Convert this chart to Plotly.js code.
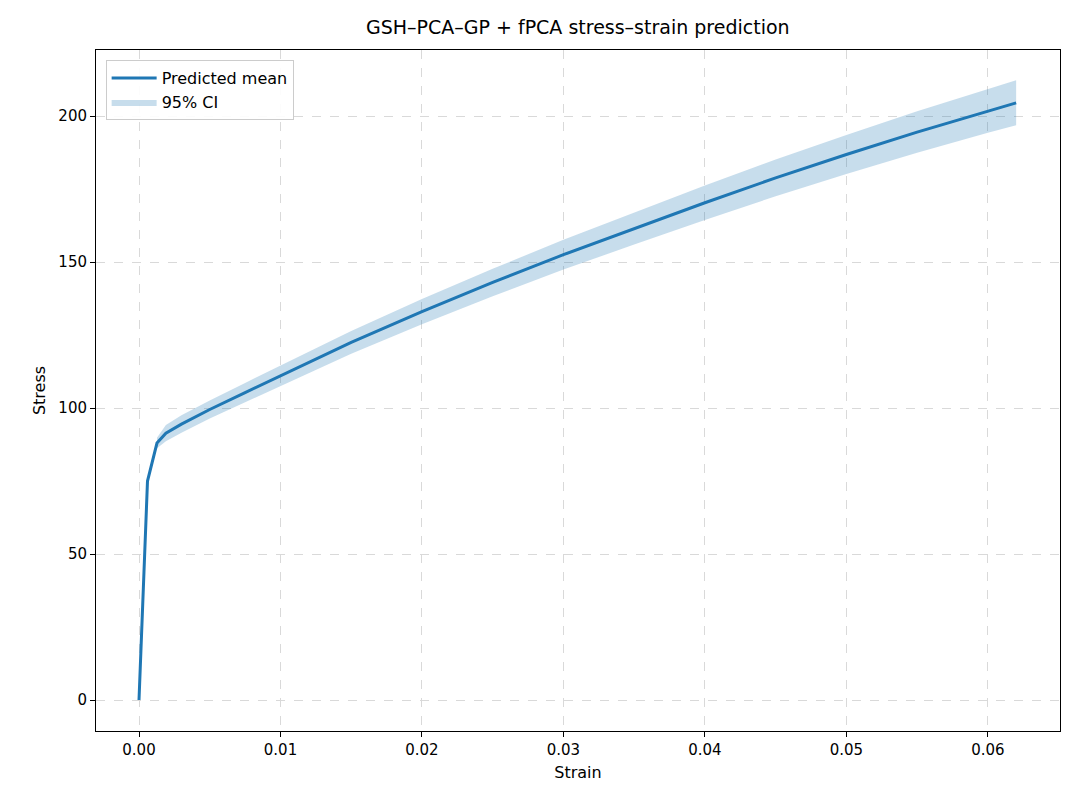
<!DOCTYPE html>
<html>
<head>
<meta charset="utf-8">
<script src="https://cdn.plot.ly/plotly-3.0.1.min.js"></script>
<style>body{margin:0;background:#fff}</style>
</head>
<body>
<div id="chart" style="width:1080px;height:810px"></div>
<script>
// strain / stress
var strain = [0, 0.0006, 0.00127, 0.0019, 0.003, 0.005, 0.0075, 0.01, 0.015, 0.02, 0.025, 0.03, 0.035, 0.04, 0.045, 0.05, 0.055, 0.06, 0.062];
var stressMean = [0, 75, 88, 91.4, 94.5, 99.5, 105.3, 111, 122.5, 133, 143, 152.5, 161.5, 170.3, 178.8, 186.8, 194.5, 201.8, 204.5];
var ciHalf = [0, 0, 1.8, 2.8, 3, 3.1, 3.3, 3.5, 3.9, 4.3, 4.7, 5.1, 5.5, 5.9, 6.3, 6.7, 7.1, 7.5, 7.7];

var bandStrain = [], bandStress = [];
for (var i = 2; i < strain.length; i++) { bandStrain.push(strain[i]); bandStress.push(stressMean[i] + ciHalf[i]); }
for (var j = strain.length - 1; j >= 2; j--) { bandStrain.push(strain[j]); bandStress.push(stressMean[j] - ciHalf[j]); }

var band = {
  x: bandStrain, y: bandStress, type: 'scatter', mode: 'lines',
  fill: 'toself', fillcolor: 'rgba(31,119,180,0.25)', line: {width: 0},
  name: '95% CI', hoverinfo: 'skip'
};
var mean = {
  x: strain, y: stressMean, type: 'scatter', mode: 'lines',
  line: {color: '#1f77b4', width: 3}, name: 'Predicted mean'
};

var ax = {
  showline: true, mirror: true, linecolor: '#000', linewidth: 1,
  ticks: 'outside', ticklen: 5, tickcolor: '#000',
  gridcolor: '#d9d9d9', griddash: 'dash', zeroline: false,
  tickfont: {size: 15, color: '#000'}
};

Plotly.newPlot('chart', [mean, band], {
  width: 1080, height: 810,
  margin: {l: 96, r: 20, t: 50, b: 79},
  paper_bgcolor: '#fff', plot_bgcolor: '#fff',
  font: {family: 'DejaVu Sans', color: '#000'},
  title: {text: 'GSH–PCA–GP + fPCA stress–strain prediction', font: {size: 19}, x: 0.535, y: 0.975},
  xaxis: Object.assign({}, ax, {range: [-0.00304, 0.0651], tickvals: [0, 0.01, 0.02, 0.03, 0.04, 0.05, 0.06],
    ticktext: ['0.00', '0.01', '0.02', '0.03', '0.04', '0.05', '0.06'], title: {text: 'Strain', font: {size: 16}, standoff: 8}}),
  yaxis: Object.assign({}, ax, {range: [-10.6, 222.6], tickvals: [0, 50, 100, 150, 200],
    title: {text: 'Stress', font: {size: 16}, standoff: 8}}),
  legend: {x: 0.01, y: 0.985, bgcolor: 'rgba(255,255,255,0.9)', bordercolor: '#ccc', borderwidth: 1, font: {size: 16}, itemwidth: 45},
  showlegend: true
}, {displayModeBar: false});
</script>
</body>
</html>
